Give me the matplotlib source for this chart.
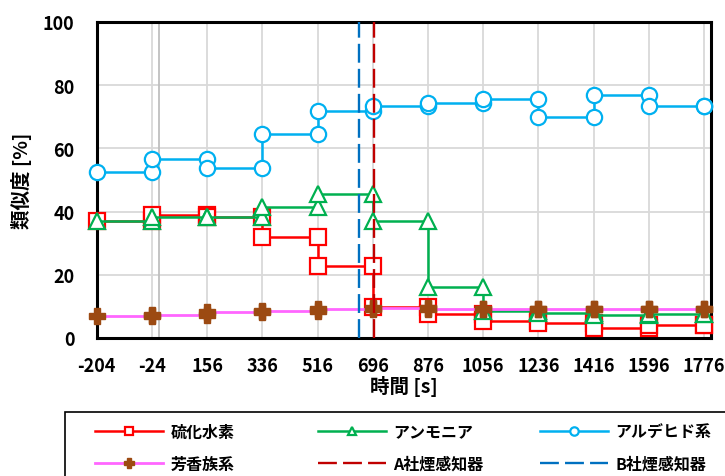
import numpy as np
import matplotlib
matplotlib.use("Agg")
import matplotlib.pyplot as plt
from matplotlib.patches import Rectangle

plt.rcParams['font.family'] = ['Noto Sans CJK JP', 'DejaVu Sans']
plt.rcParams['font.weight'] = 'bold'
plt.rcParams['axes.unicode_minus'] = False

# --- data: level of each series after the reading at each time ---
times = [-204, -24, 156, 336, 516, 696, 876, 1056, 1236, 1416, 1596, 1776]
h2s = [37.1, 38.9, 38.2, 32.0, 22.7, 9.8, 7.6, 5.4, 4.7, 3.2, 4.1, 4.1]
ammonia = [37.1, 38.2, 38.2, 41.3, 45.5, 37.1, 16.0, 8.6, 8.0, 7.4, 7.5, 7.5]
aldehyde = [52.4, 56.8, 53.7, 64.5, 71.9, 73.4, 74.5, 75.6, 69.8, 76.8, 73.4, 73.4]
aromatic = [7.0, 7.4, 8.1, 8.6, 9.2, 9.4, 9.3, 9.3, 9.3, 9.3, 9.3, 9.3]
alarm_a = 700   # A社煙感知器 作動時刻 [s]
alarm_b = 650   # B社煙感知器 作動時刻 [s]
start_t = 0

labels = ['硫化水素', 'アンモニア', 'アルデヒド系', '芳香族系', 'A社煙感知器', 'B社煙感知器']
xticks = times
yticks = [0, 20, 40, 60, 80, 100]


def step_path(t, v):
    """each reading: old level and new level at the same time"""
    t = np.asarray(t, float)
    v = np.asarray(v, float)
    xs = np.repeat(t, 2)[1:]
    ys = np.repeat(v, 2)[:-1]
    return xs, ys


fig = plt.figure(figsize=(7.25, 4.77), dpi=100)
ax = fig.add_axes([96.7 / 725, 1 - 339 / 477, (710.7 - 96.7) / 725, (339 - 23) / 477])

styles = [
    (h2s, dict(color='#FF0000', marker='s', lw=1.8, ms=11, mew=1.6, mfc='white')),
    (ammonia, dict(color='#00B050', marker='^', lw=1.8, ms=11, mew=1.6, mfc='white')),
    (aldehyde, dict(color='#00B0F0', marker='o', lw=1.8, ms=11, mew=1.6, mfc='white')),
    (aromatic, dict(color='#FF66FF', marker='P', lw=2.0, ms=12, mew=1.0,
                    mfc='#9C4A12', mec='#9C4A12')),
]
handles = []
for (vals, st), lab in zip(styles, labels[:4]):
    xs, ys = step_path(times, vals)
    ln, = ax.plot(xs, ys, label=lab, clip_on=False, zorder=3, **st)
    handles.append(ln)

dash = (0, (8, 2.6))
ha = ax.axvline(alarm_a, color='#C00000', lw=1.7, ls=dash, zorder=4, label=labels[4])
hb = ax.axvline(alarm_b, color='#0070C0', lw=1.7, ls=dash, zorder=4, label=labels[5])
handles += [ha, hb]
ax.axvline(start_t, color='#BFBFBF', lw=1.3, zorder=1)

ax.set_xlim(-204, 1798)
ax.set_ylim(0, 100)
ax.set_xticks(xticks)
ax.set_yticks(yticks)
ax.grid(True, color='#D9D9D9', lw=1.3, zorder=0)
ax.set_axisbelow(True)
ax.tick_params(length=0, labelsize=13)
ax.tick_params(axis='x', pad=13)
ax.tick_params(axis='y', pad=16)
for s in ax.spines.values():
    s.set_linewidth(2.2)
    s.set_color('black')
ax.set_xlabel('時間 [s]', fontsize=14, fontweight='bold', labelpad=0)
ax.set_ylabel('類似度 [%]', fontsize=14, fontweight='bold', labelpad=8)

# legend: three columns, framed box running off the bottom/right edge
fig.patches.append(Rectangle((64.7 / 725, -0.2), 1.0, 0.2 + (1 - 412.7 / 477),
                             transform=fig.transFigure, fill=False,
                             edgecolor='black', lw=1.2))
col_x = [94.8, 317.6, 539.5]
for i, x0 in enumerate(col_x):
    hs = [handles[i], handles[i + 3]]
    fig.legend(hs, [h.get_label() for h in hs], loc='center left',
               bbox_to_anchor=(x0 / 725, 1 - 448.5 / 477), frameon=False,
               borderpad=0, borderaxespad=0, handlelength=4.3,
               handletextpad=0.45, labelspacing=1.0, markerscale=0.55,
               prop=dict(size=11.5, weight='bold'))

fig.savefig('out.png', dpi=100)
